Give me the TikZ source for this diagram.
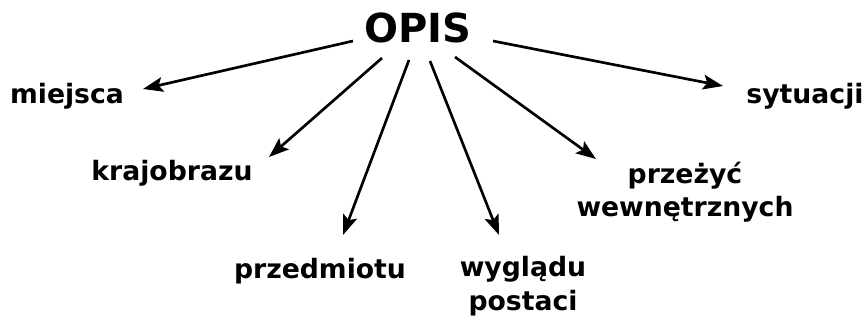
\documentclass[tikz,border=0pt]{standalone}
\usepackage{fontspec}
\setmainfont{DejaVu Sans}
\usetikzlibrary{arrows.meta}
\begin{document}
\begin{tikzpicture}[x=0.75pt,y=-0.75pt,
    lbl/.style={font=\bfseries\fontsize{20}{25}\selectfont, inner sep=0pt, align=center},
    arr/.style={line width=2pt, -{Stealth[length=15pt,width=11pt,inset=3pt]}}]
    \useasboundingbox (0,0) rectangle (866,320);

    \node[lbl, font=\bfseries\fontsize{30}{36}\selectfont, anchor=base] (opis) at (418,43) {OPIS};

    \node[lbl, anchor=base] (miejsca) at (67,104) {miejsca};
    \node[lbl, anchor=base] (krajobrazu) at (172,181) {krajobrazu};
    \node[lbl, anchor=base] (przedmiotu) at (320,278) {przedmiotu};
    \node[lbl, anchor=base] (wygladu) at (523,310) {wyglądu\\postaci};
    \node[lbl, anchor=base] (przezyc) at (685,217) {przeżyć\\wewnętrznych};
    \node[lbl, anchor=base] (sytuacji) at (805,104) {sytuacji};

    \draw[arr] ([shift={(-65,-2)}]opis.base) -- ([shift={(76,-15)}]miejsca.base);
    \draw[arr] ([shift={(-36,15)}]opis.base) -- ([shift={(97,-24)}]krajobrazu.base);
    \draw[arr] ([shift={(-9,17)}]opis.base) -- ([shift={(23,-43)}]przedmiotu.base);
    \draw[arr] ([shift={(12,18)}]opis.base) -- ([shift={(-24,-75)}]wygladu.base);
    \draw[arr] ([shift={(37,14)}]opis.base) -- ([shift={(-89,-58)}]przezyc.base);
    \draw[arr] ([shift={(75,-2)}]opis.base) -- ([shift={(-82,-18)}]sytuacji.base);
  \end{tikzpicture}
\end{document}
